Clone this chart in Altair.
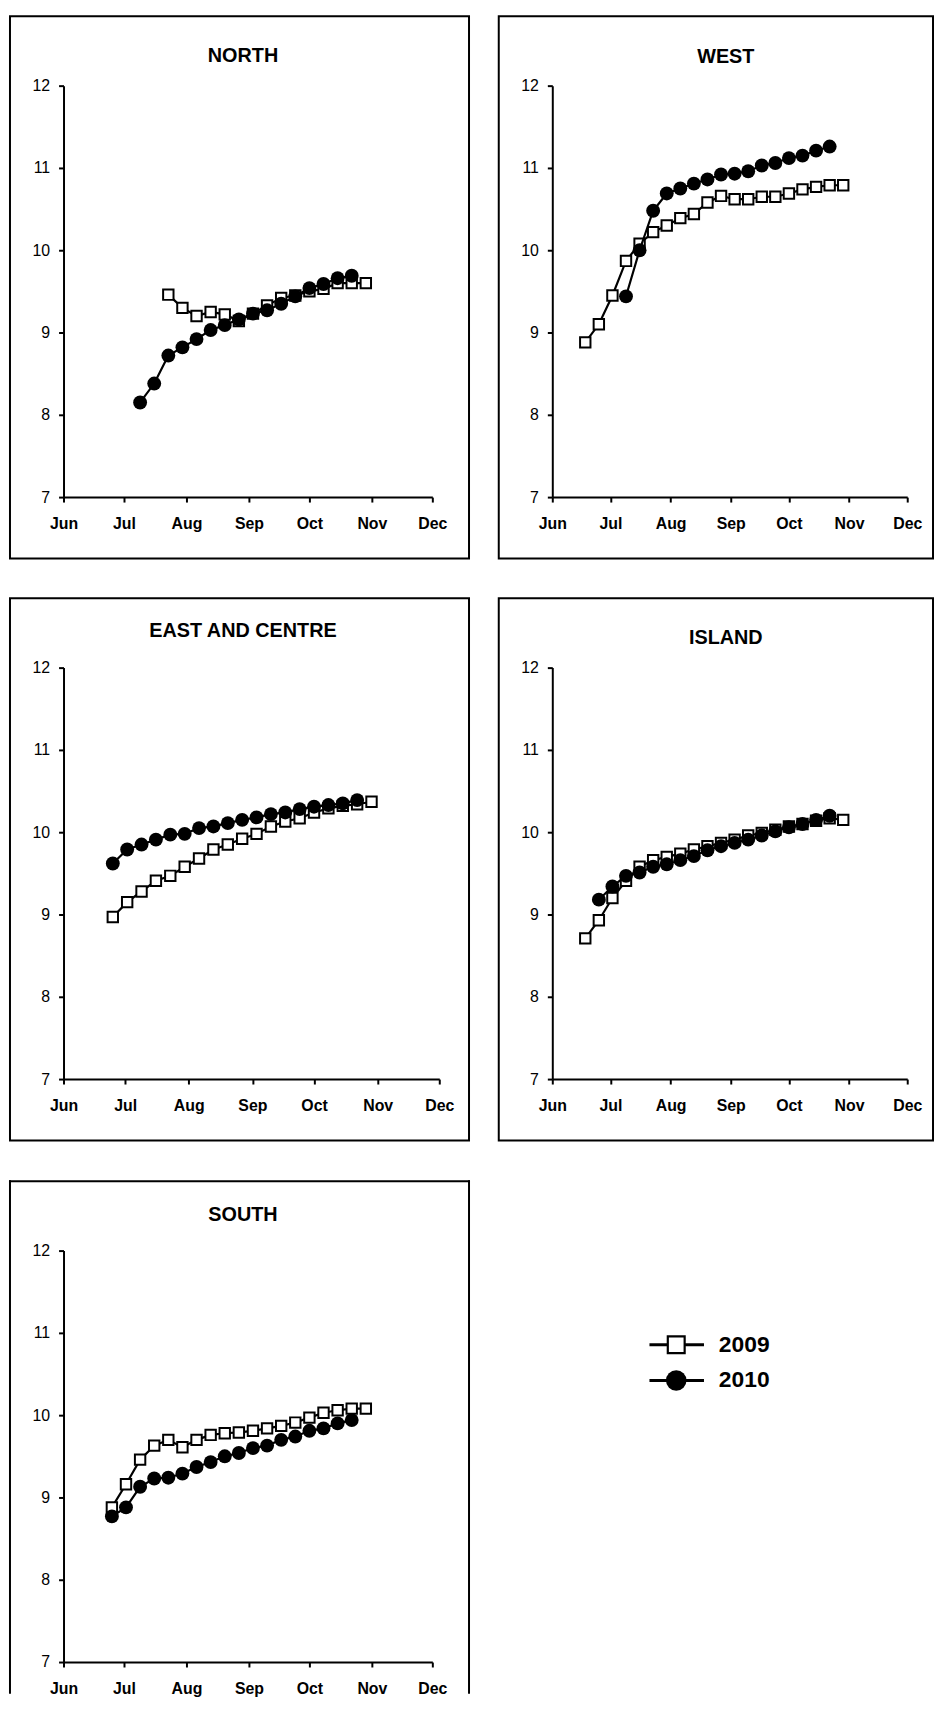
import json
import pandas as pd
import altair as alt

FONT = "Liberation Sans"

# ---------------- data ----------------
regions = ["NORTH", "WEST", "EAST AND CENTRE", "ISLAND", "SOUTH"]
years = ["2009", "2010"]
month_labels = ["Jun", "Jul", "Aug", "Sep", "Oct", "Nov", "Dec"]
month_start_days = [0, 30, 61, 92, 122, 153, 183]   # days after 1 June
y_ticks = [7, 8, 9, 10, 11, 12]

# weekly samples: first sampling date + values
north_2009_start = "2009-07-23"
north_2009 = [9.46, 9.30, 9.20, 9.25, 9.22, 9.14, 9.23, 9.33, 9.42, 9.45, 9.50, 9.53, 9.60, 9.60, 9.60]
north_2010_start = "2010-07-09"
north_2010 = [8.15, 8.38, 8.72, 8.82, 8.92, 9.03, 9.09, 9.16, 9.23, 9.27, 9.35, 9.44, 9.54, 9.59, 9.66, 9.69]

west_2009_start = "2009-06-18"
west_2009 = [8.88, 9.10, 9.45, 9.87, 10.08, 10.22, 10.30, 10.39, 10.44, 10.58, 10.66, 10.62, 10.62, 10.65,
             10.65, 10.69, 10.74, 10.77, 10.79, 10.79]
west_2010_start = "2010-07-09"
west_2010 = [9.44, 10.00, 10.48, 10.69, 10.75, 10.81, 10.86, 10.92, 10.93, 10.96, 11.03, 11.06, 11.12, 11.15,
             11.21, 11.26]

east_2009_start = "2009-06-25"
east_2009 = [8.97, 9.15, 9.28, 9.41, 9.47, 9.58, 9.68, 9.79, 9.85, 9.92, 9.98, 10.07, 10.13, 10.17, 10.24,
             10.29, 10.32, 10.34, 10.37]
east_2010_start = "2010-06-25"
east_2010 = [9.62, 9.79, 9.85, 9.91, 9.97, 9.98, 10.05, 10.07, 10.11, 10.15, 10.18, 10.22, 10.24, 10.28,
             10.31, 10.33, 10.35, 10.39]

island_2009_start = "2009-06-18"
island_2009 = [8.71, 8.93, 9.20, 9.41, 9.58, 9.66, 9.70, 9.74, 9.79, 9.83, 9.87, 9.91, 9.96, 9.99, 10.03,
               10.07, 10.10, 10.14, 10.17, 10.15]
island_2010_start = "2010-06-25"
island_2010 = [9.18, 9.34, 9.47, 9.51, 9.58, 9.61, 9.66, 9.71, 9.78, 9.83, 9.87, 9.91, 9.96, 10.01, 10.06,
               10.10, 10.15, 10.20]

south_2009_start = "2009-06-25"
south_2009 = [8.88, 9.16, 9.46, 9.63, 9.70, 9.61, 9.70, 9.76, 9.78, 9.79, 9.81, 9.84, 9.87, 9.91, 9.97,
              10.03, 10.06, 10.08, 10.08]
south_2010_start = "2010-06-25"
south_2010 = [8.77, 8.88, 9.13, 9.23, 9.24, 9.29, 9.37, 9.43, 9.50, 9.54, 9.60, 9.63, 9.70, 9.74, 9.81,
              9.84, 9.90, 9.94]


def series_df(start, values, year):
    d0 = pd.Timestamp(start)
    season0 = pd.Timestamp(year=d0.year, month=6, day=1)
    dates = pd.date_range(d0, periods=len(values), freq="7D")
    return pd.DataFrame({"day": (dates - season0).days, "value": values, "year": year})


label_expr = "{}[indexof({}, datum.value)]".format(json.dumps(month_labels), json.dumps(month_start_days))

PLOT_H = 415
LINE_W = 2.2
SQ_SIZE = 110
CI_SIZE = 196


def panel(name, s09, s10, width, title_x, title_y, box_right, south=False):
    df = pd.concat([series_df(*s09, "2009"), series_df(*s10, "2010")], ignore_index=True)
    one = pd.DataFrame({"name": [name]})
    x = alt.X("day:Q", title=None,
              scale=alt.Scale(domain=[0, 183], nice=False, zero=False),
              axis=alt.Axis(values=month_start_days, labelExpr=label_expr, labelFontSize=16,
                            labelFontWeight="bold", labelPadding=14, labelFlush=False,
                            labelOverlap=False))
    y = alt.Y("value:Q", title=None,
              scale=alt.Scale(domain=[7, 12], nice=False, zero=False),
              axis=alt.Axis(values=y_ticks, labelFontSize=16, labelPadding=9, labelFlush=False,
                            labelOverlap=False))
    layers = []
    if south:
        bottom = 446
        layers += [
            alt.Chart(one).mark_rule(color="black", strokeWidth=2, strokeCap="square").encode(
                x=alt.value(-54), y=alt.value(-70), y2=alt.value(bottom)),
            alt.Chart(one).mark_rule(color="black", strokeWidth=2, strokeCap="square").encode(
                x=alt.value(box_right), y=alt.value(-70), y2=alt.value(bottom)),
            alt.Chart(one).mark_rule(color="black", strokeWidth=2, strokeCap="square").encode(
                x=alt.value(-54), x2=alt.value(box_right), y=alt.value(-70)),
        ]
    else:
        layers.append(alt.Chart(one).mark_rect(filled=False, stroke="black", strokeWidth=2).encode(
            x=alt.value(-54), x2=alt.value(box_right), y=alt.value(-70), y2=alt.value(477)))
    layers.append(alt.Chart(one).mark_text(font=FONT, fontSize=20, fontWeight="bold", color="black",
                                           align="center", baseline="middle").encode(
        text="name:N", x=alt.value(title_x), y=alt.value(title_y)))
    for yr in years:
        base = alt.Chart(df).transform_filter(alt.datum.year == yr)
        layers.append(base.mark_line(color="black", strokeWidth=LINE_W).encode(x=x, y=y))
        if yr == "2009":
            pts = base.mark_point(shape="square", filled=True, fill="white", stroke="black",
                                  strokeWidth=2, size=SQ_SIZE, opacity=1)
        else:
            pts = base.mark_point(shape="circle", filled=True, fill="black", stroke="black",
                                  strokeWidth=0, size=CI_SIZE, opacity=1)
        layers.append(pts.encode(x=x, y=y))
    return alt.layer(*layers).properties(width=width, height=PLOT_H)


north = panel(regions[0], (north_2009_start, north_2009), (north_2010_start, north_2010), 372, 181, -30, 409)
west = panel(regions[1], (west_2009_start, west_2009), (west_2010_start, west_2010), 358, 175, -29, 384)
east = panel(regions[2], (east_2009_start, east_2009), (east_2010_start, east_2010), 379, 181, -37, 409)
island = panel(regions[3], (island_2009_start, island_2009), (island_2010_start, island_2010), 358, 175, -30, 384)
south = panel(regions[4], (south_2009_start, south_2009), (south_2010_start, south_2010), 372, 181, -36, 409,
              south=True)

# legend (its own small view, entries stacked through a linear scale)
legend_df = pd.DataFrame({"year": years, "idx": [0, 1]})
ly = alt.Y("idx:Q", axis=None, scale=alt.Scale(domain=[0, 1], range=[95, 131], nice=False, zero=False))
leg_base = alt.Chart(legend_df)
leg_layers = [
    leg_base.mark_rule(color="black", strokeWidth=3).encode(
        x=alt.value(152), x2=alt.value(207), y=ly),
    leg_base.transform_filter(alt.datum.year == "2009").mark_point(
        shape="square", filled=True, fill="white", stroke="black", strokeWidth=2.2, size=289, opacity=1).encode(
        x=alt.value(179), y=ly),
    leg_base.transform_filter(alt.datum.year == "2010").mark_point(
        shape="circle", filled=True, fill="black", strokeWidth=0, size=430, opacity=1).encode(
        x=alt.value(179), y=ly),
    leg_base.mark_text(font=FONT, fontSize=23, fontWeight="bold", color="black",
                       align="left", baseline="middle").encode(
        x=alt.value(222), y=ly, text="year:N"),
]
legend = alt.layer(*leg_layers).properties(width=300, height=300)

row1 = alt.hconcat(north, west, spacing=28)
row2 = alt.hconcat(east, island, spacing=28)
row3 = alt.hconcat(south, legend, spacing=28)

chart = alt.vconcat(row1, row2, row3, spacing=38).properties(
    padding=0, background="white"
).configure_view(stroke=None).configure_axis(
    domainColor="black", domainWidth=2, tickColor="black", tickWidth=2, tickSize=5,
    labelFont=FONT, labelColor="black", grid=False
).configure_text(font=FONT)

chart.save("out.html", embed_options={"renderer": "svg", "actions": False})
